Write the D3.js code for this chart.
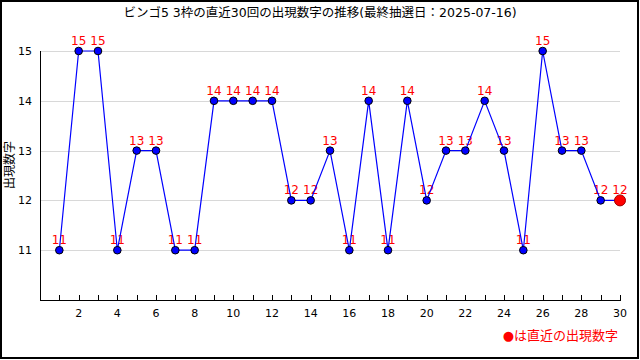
<!DOCTYPE html>
<html>
<head>
<meta charset="utf-8">
<script src="https://cdn.jsdelivr.net/npm/d3@7"></script>
<style>
  body { margin: 0; background: #fff; }
  text { font-family: "DejaVu Sans", "Noto Sans CJK JP", sans-serif; }
</style>
</head>
<body>
<div id="chart"></div>
<script>
// 直近30回 (1 = 古い, 30 = 最新)
const draws = d3.range(1, 31);
const numbers = [11, 15, 15, 11, 13, 13, 11, 11, 14, 14, 14, 14, 12, 12, 13,
                 11, 14, 11, 14, 12, 13, 13, 14, 13, 11, 15, 13, 13, 12, 12];
const yTicks = [11, 12, 13, 14, 15];
const xTickLabels = [2, 4, 6, 8, 10, 12, 14, 16, 18, 20, 22, 24, 26, 28, 30];
const title = "ビンゴ5 3枠の直近30回の出現数字の推移(最終抽選日：2025-07-16)";
const yLabel = "出現数字";
const legendText = "●は直近の出現数字";

const width = 640, height = 360;
const data = draws.map((d, i) => ({ x: d, y: numbers[i] }));

const svg = d3.select("#chart").append("svg")
    .attr("width", width)
    .attr("height", height);

// 外枠
svg.append("rect")
    .attr("x", 1).attr("y", 1)
    .attr("width", 637).attr("height", 357)
    .attr("fill", "#fff")
    .attr("stroke", "#000")
    .attr("stroke-width", 2);

const x = d3.scaleLinear().domain([0, 30]).range([40, 620]);
const y = d3.scaleLinear().domain([10, 15]).range([300, 51]);

// グリッド線
svg.append("g")
    .selectAll("line")
    .data(yTicks)
    .join("line")
    .attr("x1", x(0)).attr("x2", x(30))
    .attr("y1", d => Math.round(y(d)) + 0.5)
    .attr("y2", d => Math.round(y(d)) + 0.5)
    .attr("stroke", "#d8d8d8");

// Y軸
svg.append("line")
    .attr("x1", 40.5).attr("x2", 40.5)
    .attr("y1", y(15)).attr("y2", 300)
    .attr("stroke", "#000");

svg.append("g")
    .selectAll("text")
    .data(yTicks)
    .join("text")
    .attr("x", 32)
    .attr("y", d => y(d) + 4)
    .attr("text-anchor", "end")
    .attr("font-size", 11)
    .text(d => d);

// X軸
svg.append("line")
    .attr("x1", 40).attr("x2", 621)
    .attr("y1", 300.5).attr("y2", 300.5)
    .attr("stroke", "#000");

svg.append("g")
    .selectAll("line")
    .data(draws)
    .join("line")
    .attr("x1", d => Math.round(x(d)) + 0.5)
    .attr("x2", d => Math.round(x(d)) + 0.5)
    .attr("y1", 295).attr("y2", 300)
    .attr("stroke", "#000");

svg.append("g")
    .selectAll("text")
    .data(xTickLabels)
    .join("text")
    .attr("x", d => x(d))
    .attr("y", 317)
    .attr("text-anchor", "middle")
    .attr("font-size", 11)
    .text(d => d);

// 値ラベル (線の下に描く)
svg.append("g")
    .selectAll("text")
    .data(data)
    .join("text")
    .attr("x", d => x(d.x))
    .attr("y", d => y(d.y) - 6)
    .attr("text-anchor", "middle")
    .attr("font-size", 12)
    .attr("fill", "#ff0000")
    .text(d => d.y);

// 折れ線
svg.append("path")
    .datum(data)
    .attr("fill", "none")
    .attr("stroke", "#0000ff")
    .attr("stroke-width", 1.2)
    .attr("d", d3.line().x(d => x(d.x)).y(d => y(d.y)));

// 点
svg.append("g")
    .selectAll("circle")
    .data(data)
    .join("circle")
    .attr("cx", d => x(d.x))
    .attr("cy", d => y(d.y))
    .attr("r", (d, i) => i === data.length - 1 ? 5.5 : 3.8)
    .attr("fill", (d, i) => i === data.length - 1 ? "#ff0000" : "#0000ff")
    .attr("stroke", (d, i) => i === data.length - 1 ? "#a00000" : "#000")
    .attr("stroke-width", 1);

// タイトル
svg.append("text")
    .attr("x", 320).attr("y", 17)
    .attr("text-anchor", "middle")
    .attr("font-size", 12.5)
    .text(title);

// Y軸ラベル
svg.append("text")
    .attr("transform", "translate(14,165) rotate(-90)")
    .attr("text-anchor", "middle")
    .attr("font-size", 12)
    .text(yLabel);

// 凡例
svg.append("text")
    .attr("x", 618).attr("y", 340)
    .attr("text-anchor", "end")
    .attr("font-size", 13)
    .attr("fill", "#ff0000")
    .text(legendText);
</script>
</body>
</html>
